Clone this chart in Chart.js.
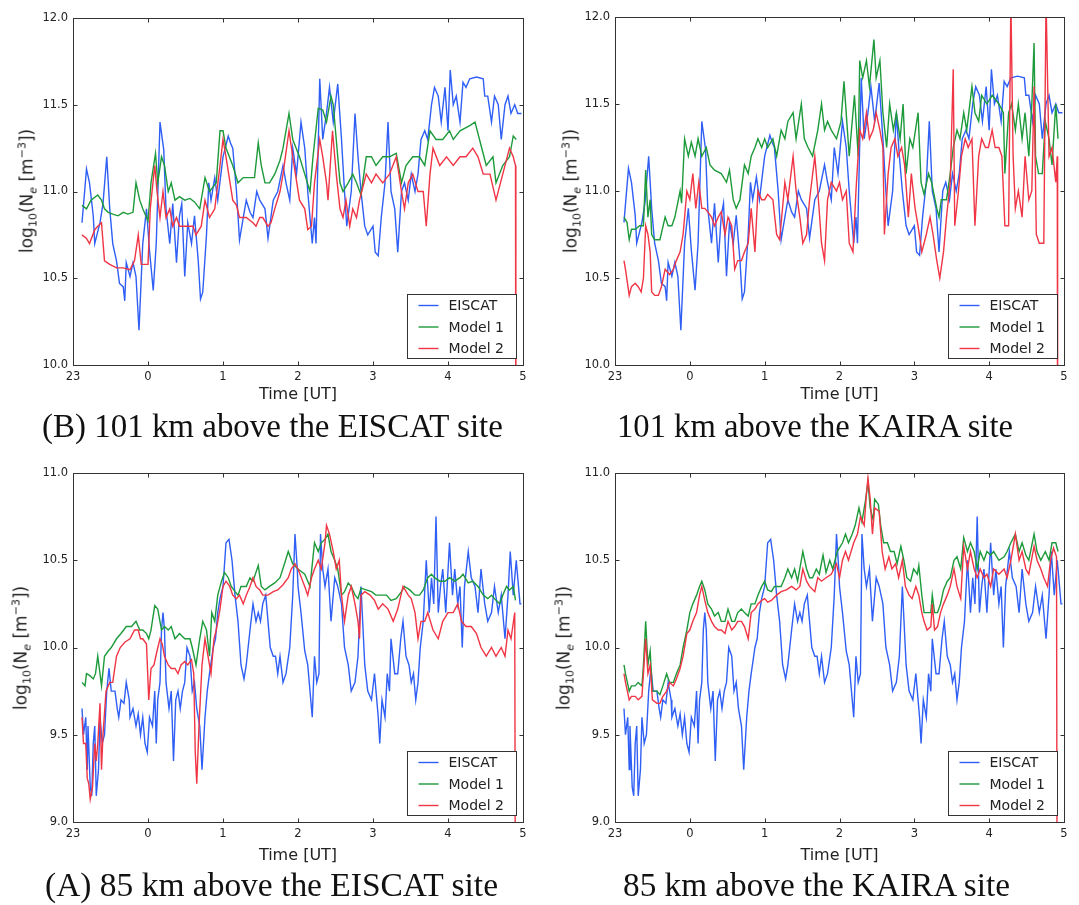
<!DOCTYPE html>
<html><head><meta charset="utf-8">
<script src="https://cdn.jsdelivr.net/npm/chart.js@4.4.1/dist/chart.umd.min.js"></script>
<style>
html,body{margin:0;padding:0;background:#fff;}
body{width:1079px;height:905px;position:relative;overflow:hidden;font-family:"DejaVu Sans",sans-serif;}
canvas{position:absolute;}
.ylab{position:absolute;white-space:nowrap;font-size:17px;color:#222;transform:translate(-50%,-50%) rotate(-90deg);line-height:1;}
.ylab sub,.ylab sup{font-size:11px;line-height:0;}
.cap{position:absolute;white-space:nowrap;font-family:"Liberation Serif",serif;color:#111;line-height:1;}
</style></head><body>
<canvas id="cTL" width="540" height="410" style="left:0;top:0"></canvas>
<canvas id="cTR" width="539" height="410" style="left:540px;top:0"></canvas>
<canvas id="cBL" width="540" height="411" style="left:0;top:456px"></canvas>
<canvas id="cBR" width="539" height="411" style="left:540px;top:456px"></canvas>

<div class="ylab" style="left:27px;top:191px">log<sub>10</sub>(N<sub><i>e</i></sub> [m<sup>−3</sup>])</div>
<div class="ylab" style="left:571px;top:191px">log<sub>10</sub>(N<sub><i>e</i></sub> [m<sup>−3</sup>])</div>
<div class="ylab" style="left:21px;top:648px">log<sub>10</sub>(N<sub><i>e</i></sub> [m<sup>−3</sup>])</div>
<div class="ylab" style="left:564px;top:648px">log<sub>10</sub>(N<sub><i>e</i></sub> [m<sup>−3</sup>])</div>

<div class="cap" data-x="42" data-w="461" data-cy="430">(B) 101 km above the EISCAT site</div>
<div class="cap" data-x="617" data-w="396" data-cy="430">101 km above the KAIRA site</div>
<div class="cap" data-x="45" data-w="453" data-cy="888">(A) 85 km above the EISCAT site</div>
<div class="cap" data-x="623" data-w="387" data-cy="888">85 km above the KAIRA site</div>

<script>
// ---- data (time in hours after 23 UT, value log10 Ne) ----
const timeTickLabels = ['23','0','1','2','3','4','5'];
const seriesLabels = ['EISCAT','Model 1','Model 2'];
const seriesColors = ['#2f5ff5','#1d9a3a','#f03545'];
const xTitle = 'Time [UT]';

const eiscat101 = [[0.12,10.82],[0.18,11.13],[0.22,11.05],[0.27,10.86],[0.29,10.70],[0.36,10.82],[0.40,10.93],[0.45,11.20],[0.49,10.90],[0.53,10.70],[0.58,10.60],[0.62,10.47],[0.67,10.45],[0.69,10.37],[0.71,10.59],[0.76,10.51],[0.80,10.59],[0.84,10.51],[0.88,10.20],[0.93,10.70],[0.98,10.90],[1.02,10.66],[1.07,10.43],[1.11,10.70],[1.16,11.40],[1.21,11.24],[1.24,10.90],[1.29,10.70],[1.33,10.93],[1.38,10.59],[1.42,10.86],[1.45,10.93],[1.49,10.51],[1.53,10.82],[1.58,10.70],[1.62,10.86],[1.67,10.60],[1.70,10.38],[1.73,10.42],[1.78,10.75],[1.81,11.05],[1.84,10.95],[1.89,11.08],[1.93,10.95],[2.00,11.20],[2.07,11.32],[2.10,11.28],[2.13,11.25],[2.18,11.00],[2.22,10.72],[2.27,10.85],[2.31,10.95],[2.36,10.88],[2.40,10.85],[2.45,11.00],[2.49,10.95],[2.56,10.90],[2.60,10.73],[2.67,10.95],[2.73,11.00],[2.80,11.15],[2.84,11.05],[2.89,10.95],[2.93,11.25],[2.98,11.10],[3.04,11.40],[3.09,11.25],[3.13,11.00],[3.19,10.70],[3.22,10.85],[3.24,10.70],[3.29,11.65],[3.33,11.30],[3.38,11.45],[3.42,11.60],[3.47,11.40],[3.53,11.62],[3.58,11.30],[3.62,11.00],[3.65,10.80],[3.71,11.00],[3.76,11.45],[3.80,11.20],[3.84,11.00],[3.89,10.80],[3.93,10.75],[4.00,10.80],[4.03,10.65],[4.07,10.63],[4.11,10.85],[4.16,11.05],[4.20,11.40],[4.24,11.00],[4.29,10.90],[4.33,10.65],[4.38,11.00],[4.42,11.05],[4.47,10.95],[4.51,11.10],[4.56,11.00],[4.60,11.10],[4.64,11.30],[4.69,11.35],[4.73,11.30],[4.78,11.50],[4.82,11.60],[4.87,11.55],[4.91,11.40],[4.96,11.60],[5.00,11.35],[5.03,11.70],[5.07,11.50],[5.11,11.55],[5.16,11.40],[5.20,11.63],[5.24,11.60],[5.29,11.65],[5.38,11.66],[5.47,11.65],[5.49,11.55],[5.53,11.55],[5.58,11.40],[5.62,11.55],[5.67,11.50],[5.71,11.30],[5.76,11.50],[5.80,11.55],[5.84,11.45],[5.89,11.50],[5.93,11.45],[5.98,11.45]];

const model1_101E = [[0.12,10.92],[0.18,10.90],[0.24,10.95],[0.33,10.98],[0.38,10.95],[0.42,10.90],[0.47,10.88],[0.53,10.87],[0.60,10.86],[0.67,10.88],[0.73,10.87],[0.80,10.88],[0.84,11.05],[0.89,10.95],[0.93,10.90],[1.00,10.83],[1.04,11.05],[1.10,11.22],[1.13,11.05],[1.18,11.20],[1.22,11.15],[1.27,11.00],[1.31,11.05],[1.36,10.95],[1.42,10.97],[1.49,10.95],[1.56,10.96],[1.62,10.94],[1.69,10.90],[1.76,11.08],[1.82,11.00],[1.91,11.05],[1.96,11.35],[2.00,11.35],[2.04,11.25],[2.13,11.15],[2.20,11.05],[2.27,11.08],[2.36,11.08],[2.42,11.08],[2.47,11.28],[2.51,11.15],[2.56,11.05],[2.62,11.05],[2.69,11.10],[2.76,11.18],[2.80,11.25],[2.88,11.45],[2.93,11.30],[3.02,11.20],[3.09,11.10],[3.16,11.00],[3.20,11.20],[3.27,11.48],[3.33,11.47],[3.38,11.40],[3.44,11.55],[3.47,11.50],[3.51,11.30],[3.56,11.05],[3.60,11.00],[3.67,11.05],[3.73,11.10],[3.78,11.05],[3.84,10.98],[3.91,11.20],[3.98,11.20],[4.04,11.15],[4.13,11.20],[4.22,11.20],[4.31,11.22],[4.38,11.05],[4.44,11.15],[4.53,11.20],[4.62,11.20],[4.69,11.15],[4.76,11.35],[4.84,11.30],[4.93,11.30],[5.02,11.35],[5.07,11.30],[5.16,11.35],[5.29,11.38],[5.36,11.40],[5.42,11.30],[5.51,11.15],[5.60,11.20],[5.64,11.05],[5.73,11.15],[5.82,11.20],[5.87,11.32],[5.91,11.30]];

const model2_101E = [[0.12,10.75],[0.18,10.73],[0.22,10.70],[0.29,10.78],[0.33,10.80],[0.38,10.82],[0.42,10.60],[0.49,10.58],[0.58,10.56],[0.67,10.56],[0.76,10.55],[0.82,10.60],[0.87,10.75],[0.91,10.58],[0.96,10.58],[1.00,10.58],[1.03,10.90],[1.09,11.15],[1.12,11.00],[1.16,10.85],[1.20,11.00],[1.24,10.85],[1.29,10.90],[1.33,10.80],[1.38,10.85],[1.42,10.80],[1.60,10.80],[1.64,10.75],[1.71,10.80],[1.76,10.95],[1.82,10.85],[1.89,10.90],[1.96,11.15],[2.00,11.30],[2.04,11.20],[2.13,10.95],[2.18,10.92],[2.22,10.85],[2.31,10.85],[2.40,10.82],[2.44,10.80],[2.49,10.85],[2.53,10.85],[2.60,10.80],[2.64,10.82],[2.69,10.90],[2.76,11.00],[2.80,11.10],[2.88,11.35],[2.93,11.20],[3.02,10.95],[3.09,10.90],[3.13,10.78],[3.18,10.80],[3.22,11.05],[3.29,11.30],[3.33,11.20],[3.38,11.05],[3.40,10.95],[3.46,11.35],[3.51,11.10],[3.56,10.90],[3.60,10.85],[3.64,10.95],[3.69,10.80],[3.73,10.90],[3.78,10.85],[3.82,10.95],[3.91,11.10],[3.98,11.05],[4.04,11.10],[4.13,11.05],[4.22,11.10],[4.31,11.20],[4.38,11.00],[4.42,10.90],[4.47,11.05],[4.53,11.10],[4.60,11.00],[4.67,11.00],[4.71,10.80],[4.76,11.10],[4.80,11.25],[4.89,11.15],[4.98,11.20],[5.07,11.15],[5.16,11.20],[5.24,11.20],[5.33,11.25],[5.40,11.20],[5.47,11.10],[5.56,11.10],[5.64,10.95],[5.73,11.10],[5.82,11.25],[5.87,11.20],[5.90,11.15],[5.905,9.00]];

const model1_101K = [[0.12,10.85],[0.16,10.82],[0.19,10.72],[0.22,10.78],[0.27,10.78],[0.33,10.80],[0.38,10.80],[0.41,11.12],[0.44,10.85],[0.47,10.95],[0.49,10.75],[0.53,10.72],[0.60,10.72],[0.67,10.85],[0.71,10.80],[0.76,10.80],[0.80,10.85],[0.87,11.00],[0.89,10.93],[0.93,11.30],[0.98,11.20],[1.02,11.28],[1.07,11.20],[1.11,11.30],[1.16,11.20],[1.22,11.25],[1.27,11.15],[1.33,11.12],[1.42,11.10],[1.49,11.05],[1.53,11.12],[1.58,10.95],[1.62,10.90],[1.67,10.95],[1.73,11.15],[1.78,11.10],[1.82,11.20],[1.87,11.25],[1.91,11.30],[1.96,11.25],[2.00,11.30],[2.04,11.25],[2.11,11.30],[2.16,11.20],[2.22,11.35],[2.27,11.30],[2.31,11.40],[2.38,11.45],[2.42,11.30],[2.49,11.50],[2.53,11.30],[2.58,11.25],[2.64,11.20],[2.71,11.35],[2.76,11.50],[2.80,11.35],[2.84,11.40],[2.89,11.35],[2.96,11.30],[3.02,11.40],[3.06,11.63],[3.13,11.20],[3.20,11.55],[3.25,11.20],[3.27,11.75],[3.31,11.65],[3.36,11.75],[3.40,11.60],[3.46,11.87],[3.49,11.65],[3.54,11.75],[3.58,11.45],[3.63,11.25],[3.67,11.50],[3.72,11.35],[3.76,11.45],[3.81,11.30],[3.85,11.50],[3.89,11.10],[3.94,11.30],[3.98,11.25],[4.05,11.45],[4.09,11.05],[4.13,10.98],[4.19,11.10],[4.23,11.05],[4.30,10.90],[4.33,10.85],[4.36,10.95],[4.43,10.95],[4.48,11.10],[4.52,11.25],[4.57,11.35],[4.61,11.30],[4.66,11.45],[4.70,11.35],[4.77,11.60],[4.81,11.45],[4.86,11.40],[4.90,11.55],[4.97,11.50],[5.04,11.55],[5.13,11.50],[5.19,11.45],[5.21,11.10],[5.26,11.45],[5.30,11.50],[5.35,11.35],[5.39,11.50],[5.44,11.30],[5.48,11.45],[5.53,11.20],[5.57,11.50],[5.60,11.85],[5.62,11.20],[5.66,11.10],[5.71,11.10],[5.75,11.40],[5.80,11.30],[5.84,11.15],[5.89,11.50],[5.92,11.30]];

const model2_101K = [[0.12,10.60],[0.14,10.55],[0.19,10.40],[0.22,10.45],[0.27,10.47],[0.31,10.45],[0.35,10.42],[0.38,10.50],[0.41,10.80],[0.44,10.75],[0.47,10.65],[0.49,10.42],[0.53,10.40],[0.58,10.40],[0.62,10.45],[0.67,10.55],[0.73,10.52],[0.78,10.55],[0.82,10.60],[0.87,10.65],[0.91,10.75],[0.96,11.00],[1.00,10.95],[1.04,11.10],[1.08,10.90],[1.12,11.05],[1.16,10.90],[1.20,10.90],[1.24,10.88],[1.29,10.85],[1.33,10.80],[1.38,10.85],[1.42,10.88],[1.47,10.75],[1.51,10.85],[1.56,10.80],[1.60,10.55],[1.64,10.60],[1.69,10.60],[1.73,10.65],[1.78,10.70],[1.82,10.90],[1.87,10.65],[1.91,11.00],[1.96,10.95],[2.00,10.95],[2.04,10.98],[2.11,10.95],[2.16,10.75],[2.20,10.72],[2.27,11.05],[2.31,10.95],[2.38,11.20],[2.42,11.00],[2.47,10.85],[2.51,10.70],[2.56,10.75],[2.60,10.95],[2.67,11.20],[2.71,11.00],[2.76,10.70],[2.80,10.60],[2.84,10.95],[2.89,11.05],[2.96,11.00],[3.00,11.05],[3.04,10.95],[3.09,11.00],[3.13,10.70],[3.18,10.65],[3.22,11.00],[3.27,11.35],[3.31,11.30],[3.36,11.45],[3.40,11.30],[3.45,11.35],[3.49,11.45],[3.54,11.35],[3.58,11.25],[3.60,10.75],[3.65,11.10],[3.69,11.25],[3.74,11.30],[3.78,11.20],[3.83,11.25],[3.87,11.15],[3.92,10.85],[3.96,11.10],[4.01,10.90],[4.05,10.80],[4.10,10.65],[4.16,10.75],[4.21,10.85],[4.25,10.75],[4.30,10.60],[4.34,10.50],[4.39,10.65],[4.43,10.85],[4.48,11.05],[4.52,11.70],[4.54,10.80],[4.59,11.00],[4.63,11.20],[4.68,11.30],[4.72,11.25],[4.77,11.30],[4.81,10.80],[4.86,11.20],[4.90,11.30],[4.95,11.25],[4.99,11.25],[5.04,11.35],[5.08,11.25],[5.13,11.25],[5.17,11.20],[5.21,10.80],[5.26,10.80],[5.29,12.10],[5.32,11.20],[5.35,10.90],[5.39,11.00],[5.44,10.85],[5.48,11.20],[5.53,10.95],[5.57,11.00],[5.60,11.60],[5.63,10.75],[5.67,10.70],[5.73,10.70],[5.76,12.10],[5.80,11.20],[5.84,11.25],[5.89,11.05],[5.91,11.20],[5.915,9.00]];

const eiscat85 = [[0.12,9.65],[0.14,9.50],[0.17,9.60],[0.19,9.30],[0.20,9.55],[0.23,9.20],[0.25,9.15],[0.27,9.45],[0.29,9.55],[0.31,9.15],[0.34,9.30],[0.36,9.60],[0.39,9.45],[0.42,9.50],[0.45,9.75],[0.48,9.88],[0.51,9.75],[0.56,9.75],[0.59,9.65],[0.61,9.60],[0.64,9.70],[0.68,9.68],[0.71,9.80],[0.75,9.70],[0.76,9.60],[0.80,9.65],[0.84,9.55],[0.87,9.62],[0.90,9.50],[0.93,9.60],[0.96,9.45],[0.99,9.40],[1.02,9.60],[1.06,9.55],[1.09,9.75],[1.11,9.45],[1.13,9.70],[1.16,9.80],[1.18,10.10],[1.20,10.20],[1.22,10.10],[1.24,9.80],[1.28,9.65],[1.31,9.75],[1.34,9.35],[1.37,9.70],[1.40,9.75],[1.43,9.65],[1.46,9.75],[1.49,9.80],[1.52,10.00],[1.56,9.95],[1.59,9.75],[1.62,9.80],[1.65,9.65],[1.69,9.55],[1.72,9.30],[1.76,9.60],[1.79,9.75],[1.82,9.85],[1.87,10.00],[1.90,10.05],[1.93,10.20],[1.96,10.28],[2.00,10.35],[2.04,10.60],[2.08,10.62],[2.12,10.50],[2.16,10.30],[2.20,10.15],[2.24,9.90],[2.28,9.82],[2.31,9.90],[2.36,10.10],[2.40,10.25],[2.44,10.15],[2.47,10.20],[2.50,10.15],[2.53,10.25],[2.57,10.30],[2.60,10.15],[2.63,10.00],[2.67,9.95],[2.70,9.95],[2.73,9.85],[2.76,9.95],[2.80,9.80],[2.84,9.85],[2.89,10.00],[2.93,10.30],[2.96,10.65],[2.99,10.45],[3.00,10.35],[3.04,10.20],[3.09,9.98],[3.13,9.90],[3.16,9.75],[3.19,9.60],[3.22,9.95],[3.25,9.80],[3.28,9.85],[3.30,10.65],[3.33,10.45],[3.36,10.35],[3.40,10.45],[3.42,10.30],[3.44,10.15],[3.49,10.40],[3.53,10.35],[3.58,10.25],[3.62,10.00],[3.67,9.90],[3.71,9.75],[3.76,9.80],[3.80,9.95],[3.84,10.35],[3.89,9.90],[3.93,9.75],[3.98,9.70],[4.02,9.85],[4.07,9.60],[4.09,9.45],[4.12,9.70],[4.16,9.60],[4.19,9.85],[4.22,9.75],[4.24,10.05],[4.29,9.85],[4.33,9.85],[4.37,10.05],[4.40,10.15],[4.44,9.95],[4.48,9.90],[4.51,9.80],[4.54,9.85],[4.57,9.70],[4.60,9.80],[4.63,10.00],[4.67,10.15],[4.71,10.50],[4.75,10.20],[4.78,10.40],[4.81,10.25],[4.84,10.75],[4.87,10.20],[4.90,10.35],[4.93,10.45],[4.97,10.20],[5.02,10.60],[5.06,10.30],[5.09,10.45],[5.13,10.25],[5.16,10.35],[5.19,10.00],[5.22,10.35],[5.27,10.55],[5.31,10.40],[5.36,10.35],[5.40,10.20],[5.44,10.45],[5.49,10.25],[5.53,10.15],[5.58,10.20],[5.62,10.35],[5.67,10.20],[5.71,10.30],[5.76,10.05],[5.80,10.30],[5.83,10.55],[5.87,10.30],[5.91,10.50],[5.96,10.25],[5.98,10.25]];

const model1_85E = [[0.12,9.80],[0.16,9.78],[0.18,9.85],[0.22,9.84],[0.27,9.82],[0.30,9.85],[0.33,9.95],[0.36,9.85],[0.38,9.78],[0.42,9.95],[0.47,9.98],[0.51,10.00],[0.58,10.05],[0.64,10.08],[0.71,10.12],[0.78,10.12],[0.84,10.15],[0.89,10.10],[0.93,10.10],[0.98,10.08],[1.01,10.05],[1.04,10.10],[1.09,10.24],[1.13,10.22],[1.18,10.10],[1.22,10.12],[1.27,10.10],[1.31,10.12],[1.36,10.05],[1.42,10.08],[1.49,10.05],[1.56,10.05],[1.59,10.00],[1.64,9.90],[1.69,10.05],[1.73,10.15],[1.78,10.10],[1.82,9.95],[1.85,10.20],[1.89,10.15],[1.93,10.30],[1.98,10.38],[2.02,10.43],[2.07,10.40],[2.11,10.35],[2.16,10.32],[2.20,10.30],[2.24,10.35],[2.31,10.35],[2.36,10.40],[2.40,10.38],[2.47,10.47],[2.51,10.35],[2.56,10.33],[2.62,10.35],[2.69,10.37],[2.76,10.40],[2.82,10.48],[2.87,10.55],[2.93,10.48],[3.00,10.45],[3.09,10.42],[3.16,10.35],[3.22,10.60],[3.27,10.55],[3.31,10.60],[3.36,10.62],[3.40,10.65],[3.44,10.55],[3.49,10.50],[3.53,10.45],[3.58,10.30],[3.62,10.32],[3.67,10.37],[3.71,10.35],[3.76,10.30],[3.80,10.28],[3.84,10.34],[3.91,10.33],[3.98,10.32],[4.04,10.30],[4.11,10.30],[4.18,10.30],[4.24,10.27],[4.31,10.28],[4.38,10.32],[4.42,10.35],[4.49,10.33],[4.56,10.30],[4.62,10.30],[4.67,10.33],[4.73,10.40],[4.78,10.42],[4.82,10.40],[4.89,10.38],[4.96,10.38],[5.02,10.40],[5.09,10.38],[5.16,10.40],[5.20,10.42],[5.27,10.37],[5.33,10.38],[5.40,10.35],[5.47,10.30],[5.53,10.28],[5.58,10.30],[5.64,10.27],[5.69,10.25],[5.73,10.30],[5.78,10.35],[5.82,10.33],[5.87,10.35],[5.90,10.27]];

const model2_85E = [[0.12,9.60],[0.14,9.45],[0.17,9.45],[0.19,9.25],[0.21,9.22],[0.23,9.13],[0.26,9.20],[0.29,9.45],[0.31,9.35],[0.33,9.45],[0.36,9.68],[0.38,9.30],[0.40,9.50],[0.44,9.75],[0.49,9.80],[0.53,9.80],[0.58,9.95],[0.63,10.00],[0.69,10.03],[0.76,10.05],[0.82,10.10],[0.87,10.10],[0.90,10.05],[0.93,10.05],[0.98,10.02],[1.01,9.70],[1.04,9.88],[1.08,9.90],[1.12,9.98],[1.16,10.05],[1.19,10.02],[1.22,9.95],[1.27,9.90],[1.31,9.88],[1.36,9.88],[1.40,9.85],[1.44,9.90],[1.49,9.92],[1.53,9.90],[1.58,9.93],[1.61,9.85],[1.63,9.40],[1.65,9.22],[1.68,9.55],[1.72,9.90],[1.76,10.05],[1.80,9.95],[1.84,9.85],[1.88,10.05],[1.91,10.10],[1.96,10.22],[2.00,10.35],[2.04,10.38],[2.09,10.35],[2.13,10.30],[2.18,10.28],[2.22,10.30],[2.27,10.25],[2.31,10.30],[2.36,10.35],[2.40,10.40],[2.44,10.35],[2.49,10.33],[2.53,10.30],[2.60,10.30],[2.67,10.32],[2.73,10.33],[2.80,10.36],[2.87,10.40],[2.91,10.45],[2.96,10.48],[3.00,10.45],[3.09,10.35],[3.13,10.30],[3.18,10.40],[3.22,10.45],[3.27,10.50],[3.31,10.45],[3.36,10.60],[3.38,10.70],[3.42,10.65],[3.47,10.55],[3.51,10.45],[3.55,10.50],[3.58,10.30],[3.62,10.15],[3.67,10.30],[3.71,10.35],[3.76,10.25],[3.80,10.15],[3.82,10.05],[3.84,10.30],[3.89,10.32],[3.96,10.30],[4.02,10.27],[4.07,10.22],[4.13,10.25],[4.20,10.22],[4.27,10.15],[4.33,10.22],[4.40,10.35],[4.47,10.30],[4.51,10.28],[4.56,10.20],[4.60,10.05],[4.64,10.15],[4.69,10.15],[4.73,10.20],[4.80,10.10],[4.87,10.05],[4.93,10.15],[5.00,10.20],[5.07,10.20],[5.13,10.25],[5.18,10.15],[5.24,10.12],[5.31,10.12],[5.38,10.08],[5.44,10.00],[5.51,9.95],[5.58,10.00],[5.64,9.95],[5.71,10.00],[5.76,9.95],[5.80,10.10],[5.84,10.05],[5.89,10.20],[5.90,8.00]];

const model1_85K = [[0.12,9.90],[0.14,9.85],[0.19,9.75],[0.22,9.78],[0.27,9.78],[0.31,9.80],[0.36,9.78],[0.38,9.90],[0.41,10.15],[0.44,9.90],[0.47,9.98],[0.50,9.75],[0.56,9.75],[0.60,9.73],[0.64,9.78],[0.69,9.85],[0.73,9.80],[0.78,9.80],[0.82,9.85],[0.87,9.90],[0.91,10.00],[0.96,10.10],[1.00,10.20],[1.04,10.25],[1.09,10.30],[1.13,10.35],[1.16,10.38],[1.20,10.33],[1.24,10.25],[1.29,10.22],[1.33,10.18],[1.38,10.20],[1.42,10.15],[1.47,10.15],[1.51,10.22],[1.56,10.15],[1.60,10.15],[1.64,10.20],[1.69,10.22],[1.73,10.20],[1.78,10.18],[1.82,10.25],[1.87,10.25],[1.91,10.30],[1.96,10.35],[2.00,10.38],[2.04,10.33],[2.09,10.32],[2.13,10.35],[2.18,10.35],[2.22,10.35],[2.27,10.40],[2.31,10.45],[2.36,10.40],[2.40,10.45],[2.44,10.38],[2.51,10.55],[2.56,10.45],[2.60,10.40],[2.64,10.40],[2.69,10.45],[2.73,10.42],[2.78,10.53],[2.82,10.43],[2.87,10.50],[2.91,10.45],[2.97,10.55],[3.04,10.60],[3.08,10.65],[3.12,10.60],[3.17,10.65],[3.21,10.70],[3.26,10.80],[3.30,10.72],[3.35,10.85],[3.38,10.95],[3.41,10.80],[3.45,10.73],[3.47,10.85],[3.52,10.82],[3.55,10.70],[3.59,10.60],[3.64,10.60],[3.68,10.55],[3.73,10.55],[3.77,10.48],[3.82,10.58],[3.86,10.50],[3.90,10.40],[3.95,10.38],[3.99,10.45],[4.04,10.42],[4.06,10.47],[4.10,10.30],[4.13,10.20],[4.17,10.20],[4.22,10.20],[4.24,10.30],[4.27,10.20],[4.31,10.20],[4.35,10.25],[4.39,10.33],[4.44,10.38],[4.48,10.40],[4.53,10.50],[4.57,10.52],[4.62,10.45],[4.66,10.63],[4.71,10.55],[4.75,10.60],[4.80,10.55],[4.84,10.45],[4.88,10.55],[4.93,10.50],[4.97,10.55],[5.02,10.53],[5.06,10.55],[5.13,10.50],[5.20,10.52],[5.24,10.55],[5.29,10.60],[5.35,10.65],[5.40,10.55],[5.44,10.60],[5.49,10.53],[5.53,10.50],[5.60,10.65],[5.64,10.55],[5.69,10.50],[5.75,10.55],[5.80,10.50],[5.84,10.60],[5.89,10.60],[5.92,10.55]];

const model2_85K = [[0.12,9.85],[0.14,9.80],[0.19,9.70],[0.22,9.72],[0.27,9.72],[0.31,9.70],[0.36,9.72],[0.38,9.85],[0.41,10.05],[0.44,9.85],[0.47,9.90],[0.50,9.70],[0.56,9.68],[0.60,9.68],[0.64,9.72],[0.69,9.75],[0.73,9.80],[0.78,9.78],[0.82,9.82],[0.87,9.88],[0.91,9.95],[0.96,10.08],[1.00,10.10],[1.04,10.15],[1.09,10.20],[1.13,10.30],[1.16,10.35],[1.20,10.27],[1.24,10.20],[1.29,10.15],[1.33,10.12],[1.38,10.10],[1.42,10.10],[1.47,10.08],[1.51,10.15],[1.56,10.10],[1.60,10.12],[1.64,10.15],[1.69,10.15],[1.73,10.12],[1.78,10.05],[1.82,10.20],[1.87,10.22],[1.91,10.25],[1.96,10.27],[2.00,10.28],[2.04,10.26],[2.09,10.27],[2.16,10.30],[2.22,10.32],[2.29,10.33],[2.36,10.35],[2.42,10.33],[2.47,10.35],[2.51,10.45],[2.56,10.38],[2.60,10.35],[2.67,10.32],[2.71,10.40],[2.76,10.38],[2.82,10.40],[2.89,10.42],[2.96,10.48],[3.00,10.40],[3.04,10.50],[3.08,10.55],[3.12,10.50],[3.19,10.60],[3.24,10.65],[3.28,10.75],[3.33,10.70],[3.36,10.88],[3.38,10.97],[3.41,10.85],[3.44,10.65],[3.47,10.80],[3.53,10.78],[3.57,10.55],[3.61,10.45],[3.66,10.52],[3.70,10.45],[3.75,10.48],[3.79,10.40],[3.84,10.50],[3.88,10.35],[3.93,10.30],[3.97,10.28],[4.02,10.35],[4.06,10.30],[4.10,10.20],[4.13,10.15],[4.17,10.10],[4.22,10.12],[4.24,10.25],[4.27,10.10],[4.31,10.12],[4.35,10.20],[4.39,10.25],[4.44,10.30],[4.48,10.35],[4.53,10.45],[4.57,10.35],[4.62,10.28],[4.66,10.58],[4.71,10.45],[4.75,10.55],[4.80,10.45],[4.84,10.40],[4.88,10.45],[4.93,10.40],[4.97,10.42],[5.02,10.35],[5.06,10.45],[5.13,10.42],[5.20,10.45],[5.24,10.40],[5.29,10.50],[5.35,10.65],[5.40,10.50],[5.44,10.55],[5.49,10.45],[5.53,10.42],[5.60,10.58],[5.64,10.50],[5.69,10.45],[5.73,10.40],[5.78,10.35],[5.82,10.50],[5.86,10.57],[5.90,10.52],[5.91,8.00]];

// ---- drawing ----
const framePlugin = {
  id: 'frameTicks',
  afterDatasetsDraw(chart) {
    const {ctx, chartArea: a, scales: {x, y}} = chart;
    ctx.save();
    ctx.strokeStyle = '#333';
    ctx.lineWidth = 1;
    const L = Math.round(a.left) + 0.5, R = Math.round(a.right) + 0.5;
    const T = Math.round(a.top) + 0.5, B = Math.round(a.bottom) + 0.5;
    ctx.strokeRect(L, T, R - L, B - T);
    ctx.beginPath();
    x.ticks.forEach(t => {
      const px = Math.round(x.getPixelForValue(t.value)) + 0.5;
      ctx.moveTo(px, B); ctx.lineTo(px, B - 4);
      ctx.moveTo(px, T); ctx.lineTo(px, T + 4);
    });
    y.ticks.forEach(t => {
      const py = Math.round(y.getPixelForValue(t.value)) + 0.5;
      ctx.moveTo(L, py); ctx.lineTo(L + 4, py);
      ctx.moveTo(R, py); ctx.lineTo(R - 4, py);
    });
    ctx.stroke();
    ctx.restore();
  }
};

const legendPlugin = {
  id: 'boxLegend',
  afterDraw(chart) {
    const {ctx, chartArea: a} = chart;
    const w = 109, h = 64;
    const bx = Math.round(a.right - 7 - w) + 0.5, by = Math.round(a.bottom - 7 - h) + 0.5;
    ctx.save();
    ctx.fillStyle = '#fff';
    ctx.fillRect(bx, by, w, h);
    ctx.strokeStyle = '#333';
    ctx.lineWidth = 1;
    ctx.strokeRect(bx, by, w, h);
    ctx.font = '14px "DejaVu Sans"';
    ctx.textBaseline = 'middle';
    ctx.textAlign = 'left';
    chart.data.datasets.forEach((ds, i) => {
      const yy = by + 11 + i * 21.5;
      ctx.strokeStyle = ds.borderColor;
      ctx.lineWidth = 1.4;
      ctx.beginPath();
      ctx.moveTo(bx + 11, yy); ctx.lineTo(bx + 31, yy);
      ctx.stroke();
      ctx.fillStyle = '#222';
      ctx.fillText(ds.label, bx + 41, yy + 1);
    });
    ctx.restore();
  }
};

function toXY(pairs) { return pairs.map(p => ({x: p[0], y: p[1]})); }

function makePanel(id, e, m1, m2, yMin, yMax, padTop, padRight, yW, titlePad) {
  const sets = [e, m1, m2];
  new Chart(document.getElementById(id), {
    type: 'line',
    data: {
      datasets: sets.map((s, i) => ({
        label: seriesLabels[i],
        data: toXY(s),
        borderColor: seriesColors[i],
        borderWidth: 1.4,
        pointRadius: 0,
        tension: 0,
        fill: false,
        order: 3 - i
      }))
    },
    options: {
      responsive: false,
      animation: false,
      events: [],
      layout: {padding: {top: padTop, right: padRight, left: 0, bottom: 0}},
      plugins: {legend: {display: false}, tooltip: {enabled: false}},
      scales: {
        x: {
          type: 'linear', min: 0, max: 6,
          afterFit: s => { s.height = 45; },
          grid: {display: false, drawTicks: false},
          border: {display: false},
          ticks: {stepSize: 1, autoSkip: false, maxRotation: 0, padding: 5,
            color: '#222', font: {family: 'DejaVu Sans', size: 11.5},
            callback: v => timeTickLabels[Math.round(v)]},
          title: {display: true, text: xTitle, color: '#222',
            font: {family: 'DejaVu Sans', size: 16}, padding: {top: 0, bottom: titlePad}}
        },
        y: {
          type: 'linear', min: yMin, max: yMax,
          afterFit: s => { s.width = yW; },
          grid: {display: false, drawTicks: false},
          border: {display: false},
          ticks: {stepSize: 0.5, padding: 5, color: '#222',
            font: {family: 'DejaVu Sans', size: 11.5},
            callback: v => Number(v).toFixed(1)}
        }
      }
    },
    plugins: [framePlugin, legendPlugin]
  });
}

makePanel('cTL', eiscat101, model1_101E, model2_101E, 10, 12, 18, 17, 73, 6);
makePanel('cTR', eiscat101, model1_101K, model2_101K, 10, 12, 17, 15, 75, 6);
makePanel('cBL', eiscat85, model1_85E, model2_85E, 9, 11, 17, 17, 73, 2);
makePanel('cBR', eiscat85, model1_85K, model2_85K, 9, 11, 17, 15, 75, 2);

// captions: fit to measured widths
document.querySelectorAll('.cap').forEach(el => {
  el.style.fontSize = '30px';
  const w = el.getBoundingClientRect().width;
  const fs = 30 * (+el.dataset.w) / w;
  el.style.fontSize = fs.toFixed(2) + 'px';
  el.style.left = el.dataset.x + 'px';
  el.style.top = (+el.dataset.cy - fs * 0.6).toFixed(1) + 'px';
});
</script>
</body></html>
